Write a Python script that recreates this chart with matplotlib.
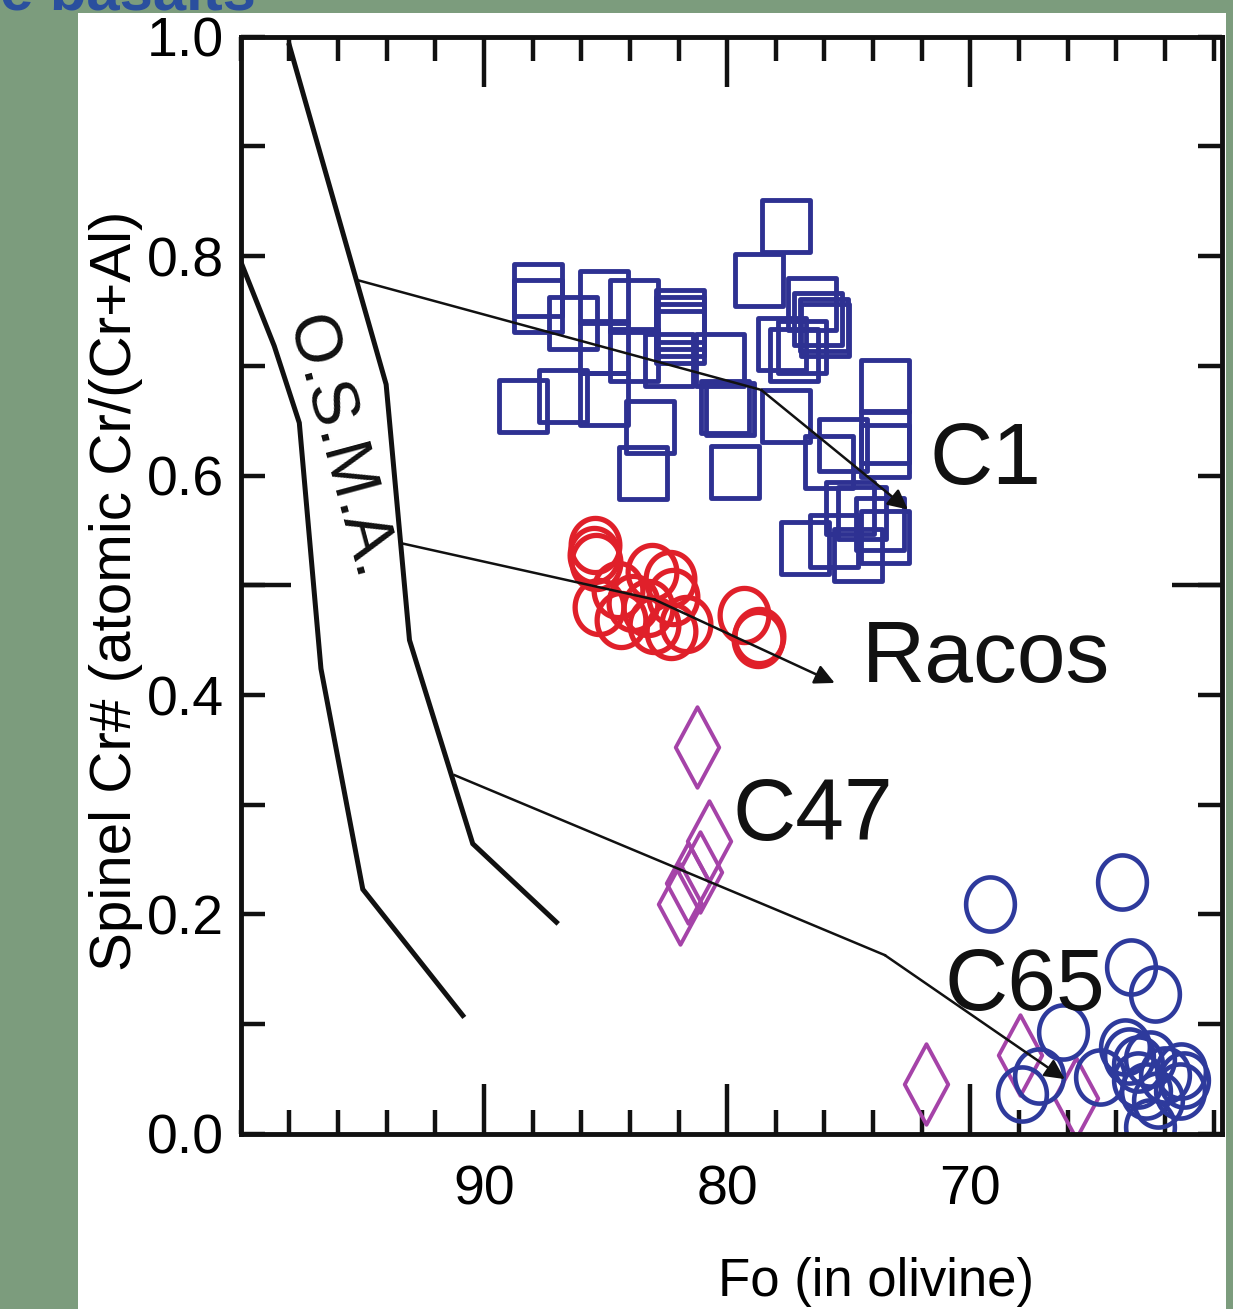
import numpy as np
import matplotlib
matplotlib.use("Agg")
import matplotlib.pyplot as plt
from matplotlib.patches import Rectangle
from matplotlib.path import Path
from matplotlib.ticker import FixedLocator, MultipleLocator, FuncFormatter

plt.rcParams['font.family'] = ['Liberation Sans', 'DejaVu Sans']

# C1 spinel / olivine pairs (squares)
c1_fo = [87.77, 87.77, 86.35, 85.05, 83.82, 81.92, 81.92, 81.92, 81.92, 85.05,
         83.82, 82.41, 85.05, 86.73, 88.39, 83.19, 83.47, 77.60, 78.68, 76.53,
         76.27, 76.03, 75.99, 77.75, 77.27, 76.93, 80.28, 80.08, 79.90, 77.57,
         79.69, 75.24, 75.83, 73.52, 73.52, 73.50, 74.96, 74.47, 76.79, 75.62,
         74.62, 73.52, 73.73]
c1_cr = [0.769, 0.754, 0.739, 0.763, 0.754, 0.745, 0.739, 0.733, 0.726, 0.717,
         0.710, 0.705, 0.670, 0.672, 0.663, 0.644, 0.602, 0.827, 0.778, 0.756,
         0.743, 0.737, 0.733, 0.720, 0.710, 0.717, 0.705, 0.662, 0.661, 0.654,
         0.603, 0.628, 0.612, 0.682, 0.635, 0.622, 0.570, 0.566, 0.534, 0.540,
         0.528, 0.544, 0.556]

# Racos (red circles)
racos_fo = [85.45, 85.49, 85.38, 85.25, 84.50, 84.36, 83.10, 82.37, 82.23,
            83.26, 82.99, 81.68, 82.30, 79.32, 78.71, 78.74, 83.88]
racos_cr = [0.537, 0.528, 0.521, 0.480, 0.496, 0.468, 0.512, 0.506, 0.489,
            0.479, 0.464, 0.465, 0.458, 0.473, 0.454, 0.451, 0.484]

# C47 (diamonds)
c47_fo = [81.23, 80.75, 81.13, 81.59, 81.93, 71.81, 67.94, 65.64]
c47_cr = [0.353, 0.267, 0.239, 0.229, 0.210, 0.046, 0.072, 0.033]

# C65 (blue circles)
c65_fo = [69.21, 63.76, 63.38, 62.41, 66.19, 67.19, 67.89, 64.68, 63.65, 63.49,
          63.10, 62.62, 62.01, 61.36, 61.22, 61.39, 62.76, 62.62, 62.28, 63.10]
c65_cr = [0.210, 0.230, 0.152, 0.128, 0.093, 0.053, 0.036, 0.052, 0.079, 0.071,
          0.064, 0.068, 0.054, 0.057, 0.049, 0.039, 0.039, 0.006, 0.031, 0.049]

# OSMA boundaries
osma_left_fo = [100.0, 98.62, 97.59, 96.70, 94.98, 90.87]
osma_left_cr = [0.795, 0.718, 0.648, 0.424, 0.223, 0.108]
osma_right_fo = [98.0, 94.02, 93.06, 90.46, 87.02]
osma_right_cr = [0.992, 0.683, 0.450, 0.2645, 0.193]

# fractionation trends
trends = {
    'C1': ([95.19, 78.60, 72.57], [0.778, 0.678, 0.569]),
    'Racos': ([93.34, 82.99, 75.58], [0.538, 0.487, 0.411]),
    'C65': ([91.21, 73.52, 66.12], [0.327, 0.163, 0.050]),
}

labels = ['C1', 'Racos', 'C47', 'C65']
label_fo = [71.67, 74.47, 79.78, 71.06]
label_cr = [0.592, 0.412, 0.268, 0.113]

# marker shapes (slightly tall, like the original)
sq_marker = Path([(-0.46, -0.5), (0.46, -0.5), (0.46, 0.5), (-0.46, 0.5), (-0.46, -0.5)], closed=True)
t = np.linspace(0, 2 * np.pi, 73)
circ_marker = Path(np.column_stack([0.45 * np.cos(t), 0.5 * np.sin(t)]), closed=True)
dia_marker = Path([(0, -0.5), (0.27, 0), (0, 0.5), (-0.27, 0), (0, -0.5)], closed=True)

fig = plt.figure(figsize=(12.33, 13.09), dpi=100, facecolor='#7c9c7d')
fig.patches.append(Rectangle((78 / 1233, 0), (1226 - 78) / 1233, 1 - 13 / 1309,
                             transform=fig.transFigure, facecolor='white',
                             edgecolor='none', zorder=-5))
fig.text(0.0, 1 - 10 / 1309, 'e basalts', color='#2a4f9e', fontsize=43,
         fontweight='bold', va='baseline', ha='left')

ax = fig.add_axes([0.1952, 0.1337, 0.7956, 0.8384])
ax.set_facecolor('white')

ax.plot(c1_fo, c1_cr, linestyle='none', marker=sq_marker, ms=38, mfc='none',
        mec='#2e3192', mew=3.5, zorder=2)
ax.plot(racos_fo, racos_cr, linestyle='none', marker=circ_marker, ms=39, mfc='none',
        mec='#e0202a', mew=3.8, zorder=2)
ax.plot(c47_fo, c47_cr, linestyle='none', marker=dia_marker, ms=58, mfc='none',
        mec='#a543a8', mew=2.8, zorder=2)
ax.plot(c65_fo, c65_cr, linestyle='none', marker=circ_marker, ms=39, mfc='none',
        mec='#2e3a9c', mew=3.3, zorder=2)

ax.plot(osma_left_fo, osma_left_cr, color='#111111', lw=3.6, zorder=3,
        solid_joinstyle='miter')
ax.plot(osma_right_fo, osma_right_cr, color='#111111', lw=3.6, zorder=3,
        solid_joinstyle='miter')

for name, (fo, cr) in trends.items():
    ax.plot(fo[:-1], cr[:-1], color='#111111', lw=1.8, zorder=4)
    ax.annotate('', xy=(fo[-1], cr[-1]), xytext=(fo[-2], cr[-2]),
                arrowprops=dict(arrowstyle='-|>', color='#111111', lw=1.8,
                                mutation_scale=30, shrinkA=0, shrinkB=0),
                zorder=4)

for lab, x, y in zip(labels, label_fo, label_cr):
    ax.text(x, y, lab, fontsize=63, ha='left', va='baseline', color='#111111', zorder=5)

ax.text(96.0, 0.625, 'O.S.M.A.', fontsize=48, rotation=-75, rotation_mode='anchor',
        ha='center', va='center', color='#111111', zorder=5)

ax.set_xlim(100, 59.67)
ax.set_ylim(0, 1.0)

ax.xaxis.set_major_locator(FixedLocator([90, 80, 70]))
ax.xaxis.set_minor_locator(MultipleLocator(2))
ax.yaxis.set_major_locator(MultipleLocator(0.1))
ax.yaxis.set_minor_locator(FixedLocator([0.5]))
ax.yaxis.remove_overlapping_locs = False
ax.yaxis.set_major_formatter(FuncFormatter(lambda v, p: f'{v:.1f}' if round(v * 10) % 2 == 0 else ''))

ax.tick_params(axis='x', which='major', direction='in', length=36, width=3.2,
               top=True, bottom=True, labelsize=40, pad=22, color='#111111')
ax.tick_params(axis='x', which='minor', direction='in', length=17, width=3.2,
               top=True, bottom=True, color='#111111')
ax.tick_params(axis='y', which='major', direction='in', length=17, width=3.2,
               left=True, right=True, labelsize=40, pad=12, color='#111111')
ax.tick_params(axis='y', which='minor', direction='in', length=36, width=3.2,
               left=True, right=True, color='#111111')

for s in ax.spines.values():
    s.set_linewidth(3.5)
    s.set_color('#111111')

ax.set_xlabel('Fo (in olivine)', fontsize=38)
ax.xaxis.set_label_coords(0.648, -0.112)
ax.set_ylabel('Spinel Cr# (atomic Cr/(Cr+Al)', fontsize=42)
ax.yaxis.set_label_coords(-0.10, 0.495)

fig.savefig('out.png', dpi=100, facecolor=fig.get_facecolor())
